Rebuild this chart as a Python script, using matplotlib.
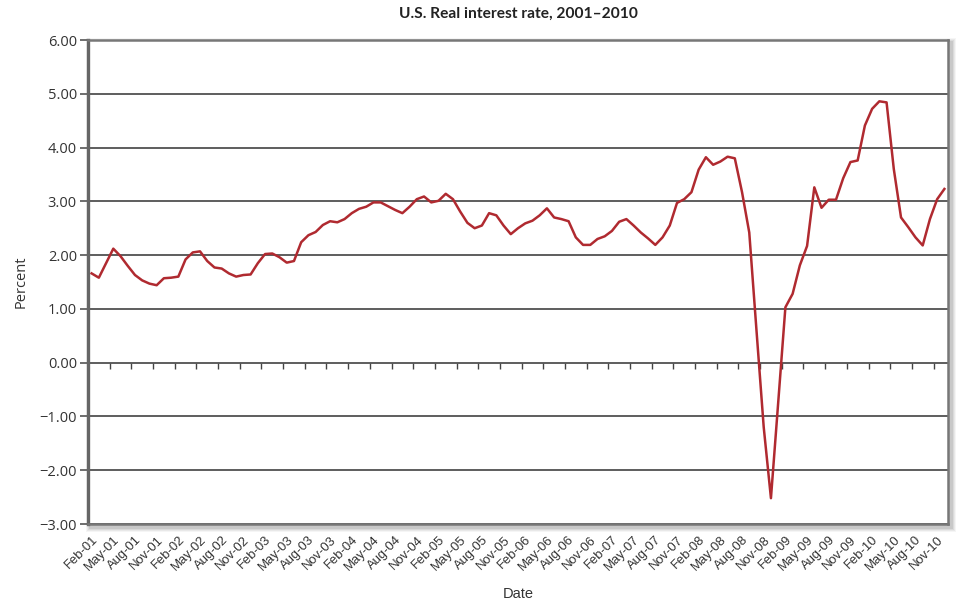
import matplotlib
matplotlib.use("Agg")
import matplotlib.pyplot as plt
import matplotlib.ticker as mticker
from matplotlib.patches import Rectangle
import numpy as np
import pandas as pd

# ---- data -------------------------------------------------------------
months = pd.date_range("2001-02-01", periods=119, freq="MS")
month_labels = [d.strftime("%b-%y") for d in months]

real_rate = [
    1.66, 1.58, 1.85, 2.12, 1.98, 1.80, 1.63, 1.53, 1.47, 1.44,
    1.57, 1.58, 1.60, 1.92, 2.05, 2.07, 1.89, 1.77, 1.75, 1.66,
    1.60, 1.63, 1.64, 1.85, 2.02, 2.03, 1.96, 1.86, 1.89, 2.24,
    2.37, 2.43, 2.56, 2.63, 2.61, 2.67, 2.78, 2.86, 2.90, 2.98,
    2.98, 2.91, 2.84, 2.78, 2.90, 3.04, 3.09, 2.98, 3.01, 3.14,
    3.04, 2.81, 2.60, 2.50, 2.55, 2.78, 2.74, 2.55, 2.39, 2.50,
    2.59, 2.64, 2.74, 2.87, 2.70, 2.67, 2.63, 2.33, 2.19, 2.19,
    2.30, 2.35, 2.45, 2.62, 2.67, 2.55, 2.42, 2.31, 2.19, 2.33,
    2.55, 2.97, 3.04, 3.17, 3.59, 3.82, 3.68, 3.74, 3.83, 3.80,
    3.17, 2.42, 0.60, -1.20, -2.52, -0.75, 1.03, 1.28, 1.81, 2.17,
    3.26, 2.88, 3.03, 3.03, 3.43, 3.73, 3.76, 4.41, 4.72, 4.86,
    4.84, 3.60, 2.70, 2.52, 2.33, 2.18, 2.67, 3.04, 3.23,
]

y_ticks = [-3, -2, -1, 0, 1, 2, 3, 4, 5, 6]
title = "U.S. Real interest rate, 2001\u20132010"
x_title = "Date"
y_title = "Percent"

# ---- figure -----------------------------------------------------------
W, H = 960, 603
fig = plt.figure(figsize=(W / 100, H / 100), dpi=100)
fig.patch.set_facecolor("white")

L, R, T, B = 88, 948, 40, 524
ax = fig.add_axes([L / W, 1 - B / H, (R - L) / W, (B - T) / H])
ax.set_zorder(1)

# soft shadow around plot area
for i, a in enumerate([0.04, 0.05, 0.06, 0.08]):
    g = 5 - i
    fig.add_artist(Rectangle(((L - g + 3) / W, 1 - (B + g + 3) / H),
                             (R - L + 2 * g) / W, (B - T + 2 * g) / H,
                             transform=fig.transFigure, facecolor="black",
                             edgecolor="none", alpha=a, zorder=-1))

x = np.arange(len(real_rate))
ax.plot(x, real_rate, color="#b02a30", lw=1.8, zorder=3, solid_joinstyle="round")

ax.set_xlim(-0.5, len(real_rate) - 0.5)
ax.set_ylim(-3, 6)

# y axis
ax.set_yticks(y_ticks)
ax.yaxis.set_major_formatter(mticker.FuncFormatter(lambda v, p: f"{v:.2f}".replace("-", "\u2212")))
ax.tick_params(axis="y", direction="out", length=6, width=1.2, color="#555555",
               labelsize=10.5, labelcolor="#333333", pad=2)
for lab in ax.get_yticklabels():
    lab.set_fontfamily("Open Sans")
ax.yaxis.grid(True, color="#505050", lw=1.3)
ax.set_axisbelow(True)

# x axis labels at bottom (every 3rd month)
lab_idx = list(range(0, len(real_rate), 3))
ax.set_xticks(lab_idx)
ax.set_xticklabels([month_labels[i] for i in lab_idx], rotation=45, ha="right",
                   va="top", rotation_mode="anchor", fontsize=9.4,
                   color="#333333", family="Liberation Sans")
ax.tick_params(axis="x", length=0, pad=7)

# ticks on zero line between categories
sec = ax.secondary_xaxis(1 / 3)
sec.set_xticks([k - 0.5 for k in range(3, len(real_rate), 3)])
sec.tick_params(axis="x", direction="out", length=4, width=1.0, color="#444444",
                labelbottom=False, labeltop=False)
sec.spines["bottom"].set_visible(False)
sec.spines["top"].set_visible(False)
sec.xaxis.set_ticks_position("bottom")
sec.set_xticklabels([])

for s in ax.spines.values():
    s.set_color("#777777")
    s.set_linewidth(1.8)
ax.spines["left"].set_color("#666666")
ax.spines["left"].set_linewidth(2.4)

fig.text((L + R) / 2 / W, 1 - 14 / H, title, ha="center", va="center",
         fontsize=11.2, fontweight="bold", family="Lato", color="#222222")
fig.text((L + R) / 2 / W, 1 - 594 / H, x_title, ha="center", va="center",
         fontsize=10.5, family="Liberation Sans", color="#333333")
fig.text(21 / W, 1 - 282 / H, y_title, ha="center", va="center", rotation=90,
         fontsize=10.5, family="Open Sans", color="#333333")

fig.savefig("out.png", dpi=100, facecolor="white")
